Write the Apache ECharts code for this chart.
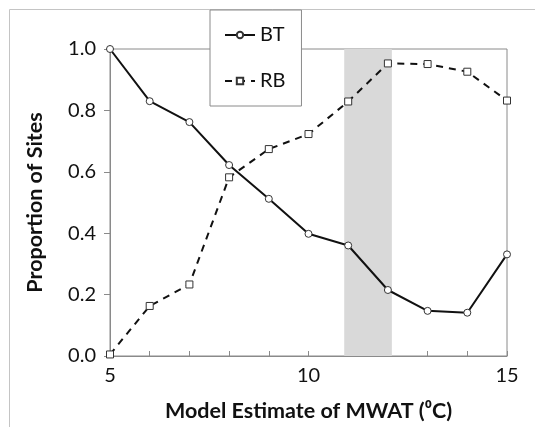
<!DOCTYPE html>
<html>
<head>
<meta charset="utf-8">
<script src="https://cdn.jsdelivr.net/npm/echarts@6/dist/echarts.min.js"></script>
<style>
  html, body { margin: 0; padding: 0; background: #fff; }
  #chart { width: 535px; height: 427px; }
</style>
</head>
<body>
<div id="chart"></div>
<script>
const mwat = [5, 6, 7, 8, 9, 10, 11, 12, 13, 14, 15];
const bt = [1.0, 0.83, 0.762, 0.622, 0.512, 0.398, 0.36, 0.215, 0.147, 0.141, 0.331];
const rb = [0.005, 0.163, 0.233, 0.582, 0.674, 0.723, 0.829, 0.953, 0.951, 0.926, 0.832];
const band = [10.9, 12.1];

const font = "Lato";
const chart = echarts.init(document.getElementById("chart"));

const pairs = (ys) => mwat.map((x, i) => [x, ys[i]]);

chart.setOption({
  animation: false,
  backgroundColor: "#fff",
  textStyle: { fontFamily: font },
  graphic: [{
    type: "rect",
    shape: { x: 9.5, y: 9.5, width: 600, height: 500 },
    style: { fill: "none", stroke: "#c4c4c4", lineWidth: 1 },
    z: -1
  }],
  grid: {
    left: 110, right: 28, top: 49, bottom: 70,
    show: true, borderColor: "#8a8a8a", borderWidth: 1, backgroundColor: "transparent"
  },
  legend: {
    orient: "vertical",
    left: 210, top: 10,
    padding: [15, 16, 15, 14],
    itemGap: 26,
    itemWidth: 30, itemHeight: 8,
    backgroundColor: "#fff",
    borderColor: "#8a8a8a", borderWidth: 1,
    textStyle: { fontSize: 20, color: "#111", fontFamily: font },
    data: ["BT", "RB"]
  },
  xAxis: {
    type: "value",
    min: 5, max: 15, interval: 5,
    name: "Model Estimate of MWAT (⁰C)",
    nameLocation: "middle",
    nameGap: 44,
    nameTextStyle: { fontSize: 21.5, fontWeight: "bold", color: "#111", fontFamily: font },
    axisLine: { lineStyle: { color: "#8a8a8a" } },
    axisTick: { inside: true, length: 5, lineStyle: { color: "#8a8a8a" } },
    minorTick: { show: true, splitNumber: 5, length: 5, lineStyle: { color: "#8a8a8a" } },
    axisLabel: { fontSize: 20, color: "#111", margin: 10 },
    splitLine: { show: false }
  },
  yAxis: {
    type: "value",
    min: 0, max: 1, interval: 0.2,
    name: "Proportion of Sites",
    nameLocation: "middle",
    nameGap: 64,
    nameTextStyle: { fontSize: 21.5, fontWeight: "bold", color: "#111", fontFamily: font },
    axisLine: { show: true, lineStyle: { color: "#8a8a8a" } },
    axisTick: { show: true, length: 6, lineStyle: { color: "#8a8a8a" } },
    axisLabel: { fontSize: 20, color: "#111", margin: 14, formatter: (v) => v.toFixed(1) },
    splitLine: { show: false }
  },
  series: [
    {
      name: "BT",
      type: "line",
      data: pairs(bt),
      symbol: "circle",
      symbolSize: 7,
      lineStyle: { color: "#111", width: 2 },
      itemStyle: { color: "#fff", borderColor: "#333", borderWidth: 1 },
      z: 3,
      markArea: {
        silent: true,
        itemStyle: { color: "#d9d9d9" },
        data: [[{ xAxis: band[0] }, { xAxis: band[1] }]]
      }
    },
    {
      name: "RB",
      type: "line",
      data: pairs(rb),
      symbol: "rect",
      symbolSize: 7,
      lineStyle: { color: "#111", width: 2, type: [7, 6] },
      itemStyle: { color: "#fff", borderColor: "#333", borderWidth: 1 },
      z: 3
    }
  ]
});
</script>
</body>
</html>
